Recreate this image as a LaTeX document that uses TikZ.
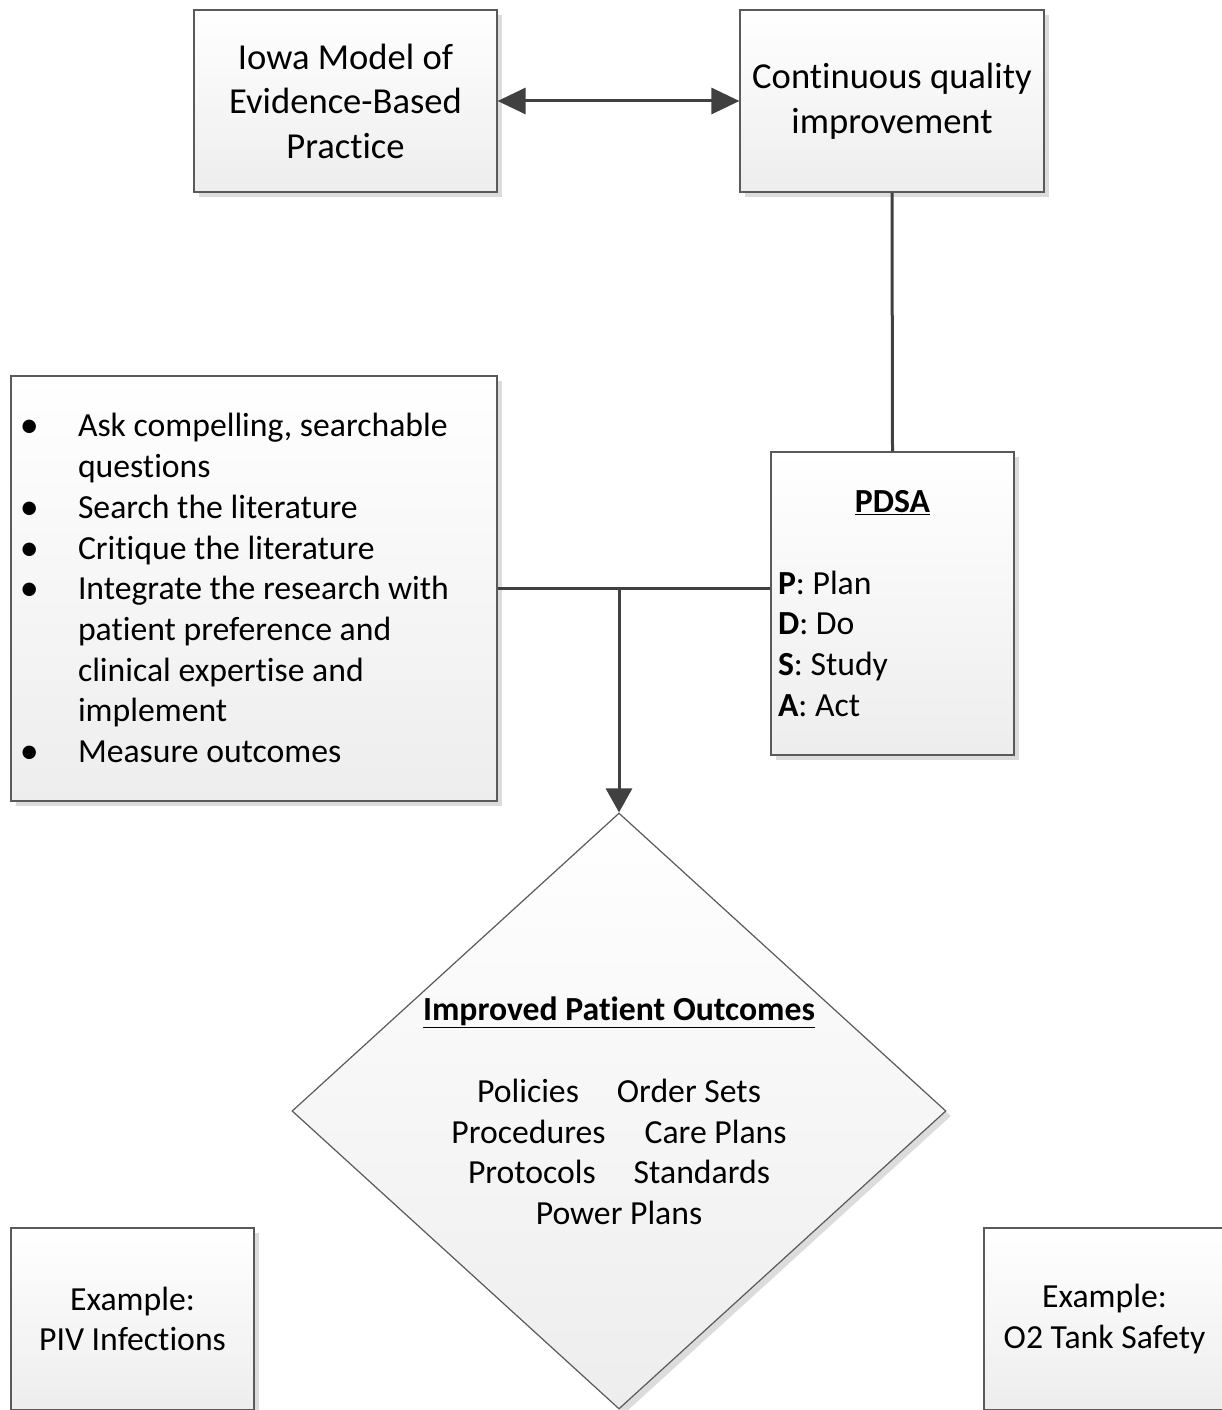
\documentclass[tikz,border=0pt]{standalone}
\usepackage{fontspec}
\setmainfont[Ligatures=NoCommon]{Carlito}
\usetikzlibrary{arrows.meta,shapes.geometric,shadows}
\definecolor{linegray}{HTML}{404040}
\definecolor{bordergray}{HTML}{5A5A5A}
\definecolor{shadegray}{HTML}{DCDCDC}
\newcommand\bitem[1]{\par\noindent\hangindent=59pt\hangafter=1\makebox[59pt][l]{\hspace*{1pt}\raisebox{-1pt}{\fontsize{38}{38}\selectfont •}}#1\par}
\begin{document}
\begin{tikzpicture}[x=1pt,y=-1pt,
  box/.style={draw=bordergray, line width=1.2pt, rectangle, inner sep=0pt,
    top color=white, bottom color=black!7,
    drop shadow={shadow xshift=5pt, shadow yshift=-5pt, fill=shadegray, opacity=1}},
  conn/.style={draw=linegray, line width=3pt},
  big/.style={font=\fontsize{36.6}{44.5}\selectfont, align=center},
  med/.style={font=\fontsize{33.7}{40.7}\selectfont}
]
\useasboundingbox (0,0) rectangle (1222,1410);
\clip (0,0) rectangle (1222,1410);
\fill[white] (0,0) rectangle (1222,1410);

\node[box, big, minimum width=303pt, minimum height=182pt] (iowa) at (345.5,101)
  {Iowa Model of\\Evidence-Based\\Practice};
\node[box, big, minimum width=304pt, minimum height=182pt] (cqi) at (892,101)
  {Continuous quality\\improvement};

\node[box, med, minimum width=486pt, minimum height=425pt] (list) at (254,588.5)
  {\parbox{470pt}{\raggedright
    \bitem{Ask compelling, searchable\newline questions}
    \bitem{Search the literature}
    \bitem{Critique the literature}
    \bitem{Integrate the research with\newline patient preference and\newline clinical expertise and\newline implement}
    \bitem{Measure outcomes}}};

\node[box, med, minimum width=243pt, minimum height=303pt] (pdsa) at (892.5,603.5)
  {\parbox{229pt}{\centering\textbf{\underline{PDSA}}\par\mbox{}\par\raggedright
    \textbf{P}: Plan\\\textbf{D}: Do\\\textbf{S}: Study\\\textbf{A}: Act}};

\node[draw=bordergray, line width=1.2pt, diamond, minimum width=654pt, minimum height=596pt,
  inner sep=0pt, top color=white, bottom color=black!7,
  drop shadow={shadow xshift=5pt, shadow yshift=-5pt, fill=shadegray, opacity=1}] (outcome) at (619,1111) {};
\node[med, align=center] (outtext) at (outcome.center)
  {\textbf{\underline{Improved Patient Outcomes}}\\[40.7pt]
   Policies\hspace{38pt}Order Sets\\
   Procedures\hspace{39pt}Care Plans\\
   Protocols\hspace{38pt}Standards\\
   Power Plans};

\node[box, med, align=center, minimum width=243pt, minimum height=182pt] (ex1) at (132.5,1319)
  {Example:\\PIV Infections};
\node[box, med, align=center, minimum width=241pt, minimum height=182pt] (ex2) at (1104.5,1319)
  {Example:\\O2 Tank Safety};

\draw[conn, {Triangle[length=28pt,width=26pt]}-{Triangle[length=28pt,width=26pt]}] (iowa.east) -- (cqi.west);
\draw[conn] (cqi.south) -- (pdsa.north);
\coordinate (pj) at (pdsa.west |- list.east);
\draw[conn] (list.east) -- (pj);
\coordinate (jn) at (outcome.north |- list.east);
\draw[conn, -{Triangle[length=24pt,width=26pt]}] (jn) -- (outcome.north);
\end{tikzpicture}
\end{document}
